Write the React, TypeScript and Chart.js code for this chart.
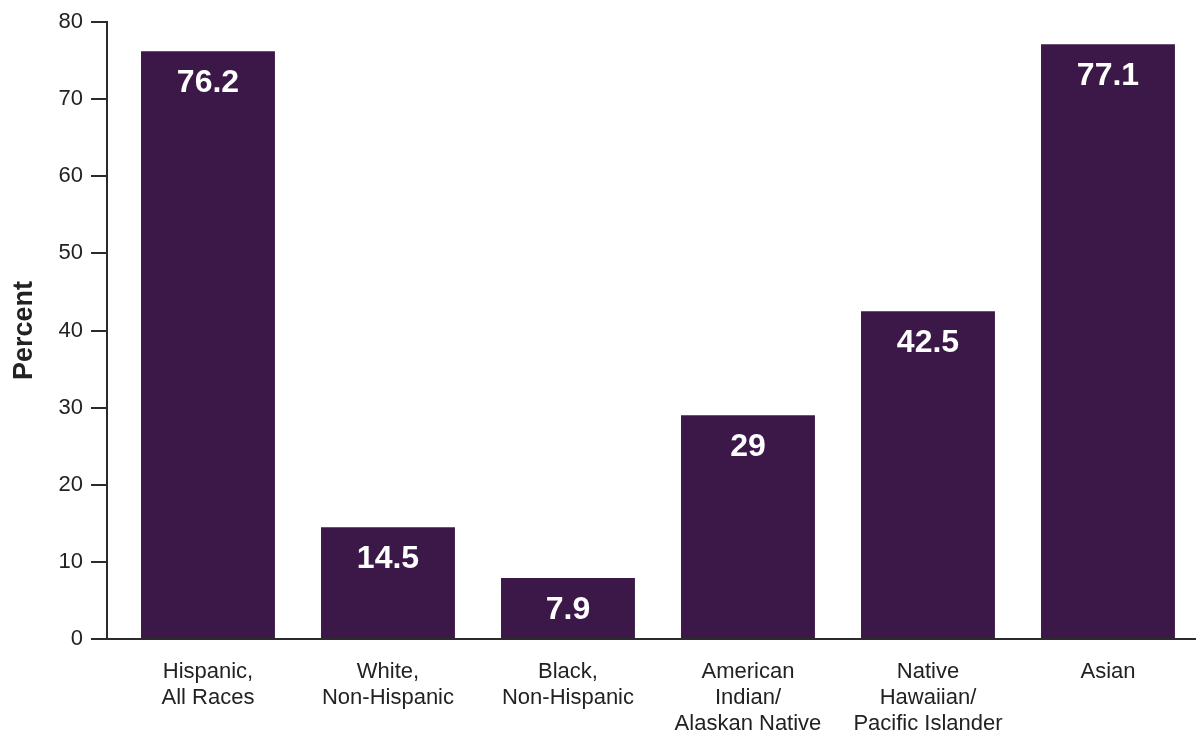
import React, { useEffect, useRef } from "react";
import { Chart, registerables } from "chart.js";

Chart.register(...registerables);

const categories: string[][] = [
  ["Hispanic,", "All Races"],
  ["White,", "Non-Hispanic"],
  ["Black,", "Non-Hispanic"],
  ["American", "Indian/", "Alaskan Native"],
  ["Native", "Hawaiian/", "Pacific Islander"],
  ["Asian"],
];
const values: number[] = [76.2, 14.5, 7.9, 29, 42.5, 77.1];
const valueLabels: string[] = ["76.2", "14.5", "7.9", "29", "42.5", "77.1"];
const yTicks: number[] = [0, 10, 20, 30, 40, 50, 60, 70, 80];

const FONT = "'Liberation Sans', Arial, Helvetica, sans-serif";
const BAR = "#3c1849";
const AXIS = "#2b2b2b";
const TEXT = "#222222";

const valueLabelPlugin = {
  id: "valueLabels",
  afterDatasetsDraw(chart: any) {
    const meta = chart.getDatasetMeta(0);
    const ctx = chart.ctx;
    ctx.save();
    ctx.fillStyle = "#ffffff";
    ctx.font = `bold 32px ${FONT}`;
    ctx.textAlign = "center";
    ctx.textBaseline = "middle";
    meta.data.forEach((el: any, i: number) => {
      ctx.fillText(valueLabels[i], el.x, el.y + 32);
    });
    ctx.restore();
  },
};

export default function App() {
  const ref = useRef<HTMLCanvasElement | null>(null);

  useEffect(() => {
    if (!ref.current) return;
    const chart = new Chart(ref.current, {
      type: "bar",
      data: {
        datasets: [
          {
            data: values.map((v, i) => ({ x: i, y: v })),
            backgroundColor: BAR,
            borderWidth: 0,
            barPercentage: 0.744,
            categoryPercentage: 1,
          },
        ],
      },
      options: {
        animation: false,
        responsive: false,
        maintainAspectRatio: false,
        layout: { padding: { top: 22, right: 0, left: 0, bottom: 0 } },
        plugins: {
          legend: { display: false },
          tooltip: { enabled: false },
        },
        scales: {
          x: {
            type: "linear",
            offset: false,
            min: -0.561,
            max: 5.489,
            grid: { display: false, offset: false },
            border: { display: true, color: AXIS, width: 2 },
            afterBuildTicks: (s: any) => {
              s.ticks = categories.map((_, i) => ({ value: i }));
            },
            afterFit: (s: any) => {
              s.height = 91;
            },
            ticks: {
              autoSkip: false,
              maxRotation: 0,
              minRotation: 0,
              padding: 12,
              color: TEXT,
              font: { family: FONT, size: 22, lineHeight: 26 / 22 },
              callback: (v: any) => categories[v as number] ?? "",
            },
          },
          y: {
            min: 0,
            max: 80,
            afterBuildTicks: (s: any) => {
              s.ticks = yTicks.map((v) => ({ value: v }));
            },
            afterFit: (s: any) => {
              s.width = 107;
            },
            grid: {
              drawOnChartArea: false,
              drawTicks: true,
              tickLength: 16,
              color: AXIS,
              lineWidth: 2,
            },
            border: { display: true, color: AXIS, width: 2 },
            ticks: {
              padding: 8,
              color: TEXT,
              font: { family: FONT, size: 22 },
            },
            title: {
              display: true,
              text: "Percent",
              color: TEXT,
              font: { family: FONT, size: 27, weight: "bold", lineHeight: 1 },
              padding: { top: 11, bottom: 0 },
            },
          },
        },
      },
      plugins: [valueLabelPlugin],
    } as any);
    return () => chart.destroy();
  }, []);

  return (
    <div style={{ position: "absolute", left: 0, top: 0, width: 1196, height: 730, background: "#fff" }}>
      <canvas ref={ref} width={1196} height={730} style={{ display: "block" }} />
    </div>
  );
}
